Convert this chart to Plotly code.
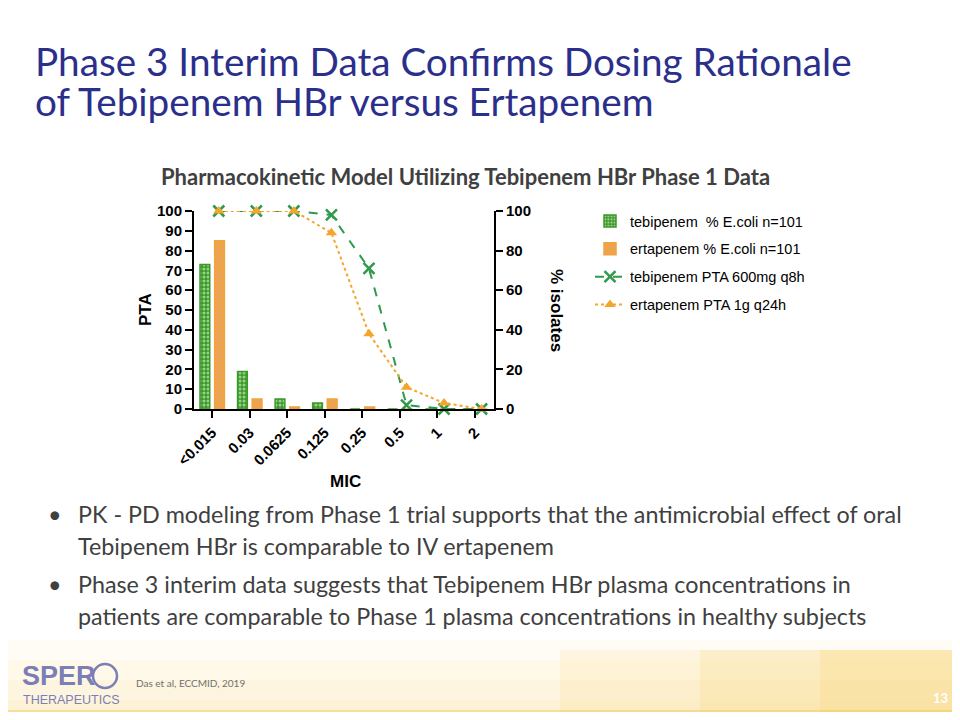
import plotly.graph_objects as go

# MIC categories (x axis)
mic = ["<0.015", "0.03", "0.0625", "0.125", "0.25", "0.5", "1", "2"]

# % of E.coli isolates at each MIC (n=101)
tebi_isolates = [73, 19, 5, 3, 0, 0, 0, 0]
erta_isolates = [85, 5, 1, 5, 1, 0, 0, 0]

# probability of target attainment (PTA, %)
tebi_pta = [100, 100, 100, 98, 71, 2, 0, 0]
erta_pta = [100, 100, 100, 89, 38, 11, 3, 0]

GREEN = "#3A9A26"
ORANGE = "#F2A33A"
LINE_GREEN = "#2E9A4A"
LINE_ORANGE = "#F4A52C"
NAVY = "#2B2F8C"
GREY = "#404040"
LOGO = "#7B7FB5"

# page has an 8px body margin, so the figure sits at (8, 8)
OFF = 8
W, H = 960 - OFF, 720 - 2 * OFF


def px(x):
    return (x - OFF) / W


def py(y):
    return 1 - (y - OFF) / H


tick_font = dict(family="Liberation Sans, Arial", size=15, color="black", weight="bold")

fig = go.Figure()

fig.add_trace(go.Bar(
    x=mic, y=tebi_isolates, name="tebipenem  % E.coli n=101",
    width=0.26, offset=-0.32,
    marker=dict(color=GREEN, line=dict(color=GREEN, width=1.5),
                pattern=dict(shape=".", fgcolor="white", size=4, solidity=0.45, fillmode="overlay")),
    legendgroup="a",
))
fig.add_trace(go.Bar(
    x=mic, y=erta_isolates, name="ertapenem % E.coli n=101",
    width=0.26, offset=0.07,
    marker=dict(color=ORANGE, line=dict(color=ORANGE, width=1.5),
                pattern=dict(shape=".", fgcolor="#D9A6A0", size=4, solidity=0.45, fillmode="overlay")),
    legendgroup="b",
))
fig.add_trace(go.Scatter(
    x=mic, y=tebi_pta, name="tebipenem PTA 600mg q8h",
    xaxis="x2", yaxis="y2", mode="lines+markers", cliponaxis=False,
    line=dict(color=LINE_GREEN, width=2, dash="dash"),
    marker=dict(symbol="x-thin", size=11, line=dict(color=LINE_GREEN, width=2.5)),
    legendgroup="c",
))
fig.add_trace(go.Scatter(
    x=mic, y=erta_pta, name="ertapenem PTA 1g q24h",
    xaxis="x2", yaxis="y2", mode="lines+markers", cliponaxis=False,
    line=dict(color=LINE_ORANGE, width=2, dash="dot"),
    marker=dict(symbol="triangle-up", size=10, color=LINE_ORANGE),
    legendgroup="d",
))

xdom = [px(194), px(494)]
ydom = [py(409), py(211)]

fig.update_layout(
    template="none",
    width=W, height=H,
    margin=dict(l=0, r=0, t=0, b=0, pad=0, autoexpand=False),
    paper_bgcolor="white", plot_bgcolor="rgba(0,0,0,0)",
    barmode="overlay",
    xaxis=dict(domain=xdom, range=[-0.48, 7.51], type="category", automargin=False,
               showline=True, linecolor="black", linewidth=2,
               ticks="outside", ticklen=7, tickwidth=2, tickcolor="black",
               tickangle=-45, tickfont=tick_font, showgrid=False, zeroline=False),
    xaxis2=dict(domain=xdom, overlaying="x", range=[-0.66, 7.33], type="category",
                visible=False, automargin=False),
    yaxis=dict(domain=ydom, range=[0, 100], dtick=10, automargin=False,
               showline=True, linecolor="black", linewidth=2,
               ticks="outside", ticklen=7, tickwidth=2, tickcolor="black",
               tickfont=tick_font, showgrid=False, zeroline=False),
    yaxis2=dict(domain=ydom, overlaying="y", side="right", anchor="x", range=[0, 100], dtick=20,
                automargin=False,
                showline=True, linecolor="black", linewidth=2,
                ticks="outside", ticklen=7, tickwidth=2, tickcolor="black",
                tickfont=tick_font, showgrid=False, zeroline=False),
    legend=dict(x=px(590), y=py(205), xanchor="left", yanchor="top",
                font=dict(family="Liberation Sans, Arial", size=14.5, color="black"),
                bgcolor="rgba(0,0,0,0)", tracegroupgap=6, itemwidth=30,
                traceorder="grouped"),
    showlegend=True,
)

# decorative warm band at the bottom of the slide
band = [(640, 0.10), (660, 0.12), (680, 0.14), (700, 0.16)]
for y0, op in band:
    fig.add_shape(type="rect", xref="paper", yref="paper", x0=0, x1=1, y0=0, y1=py(y0),
                  fillcolor="#FBE6A0", opacity=op, line_width=0, layer="below")
for x0, op in [(560, 0.15), (700, 0.2), (820, 0.25)]:
    fig.add_shape(type="rect", xref="paper", yref="paper", x0=px(x0), x1=1, y0=0, y1=py(650),
                  fillcolor="#F7D36E", opacity=op, line_width=0, layer="below")
fig.add_shape(type="rect", xref="paper", yref="paper", x0=0, x1=1, y0=0, y1=py(710),
              fillcolor="#F3C54A", opacity=0.45, line_width=0, layer="below")

# logo circle (the "O" of SPERO)
fig.add_shape(type="circle", xref="paper", yref="paper",
              x0=px(93), x1=px(117), y0=py(688), y1=py(664),
              line=dict(color=LOGO, width=2.5))

body = dict(family="Lato", size=23.3, color=GREY)
logo_font = "Liberation Sans, Arial"

ann = [
    dict(text="Phase 3 Interim Data Confirms Dosing Rationale", x=px(33), y=py(61),
         font=dict(family="Lato", size=38.7, color=NAVY), xanchor="left"),
    dict(text="of Tebipenem HBr versus Ertapenem", x=px(33), y=py(101),
         font=dict(family="Lato", size=38.7, color=NAVY), xanchor="left"),
    dict(text="<b>Pharmacokinetic Model Utilizing Tebipenem HBr Phase 1 Data</b>", x=px(465), y=py(177),
         font=dict(family="Lato", size=22, color=GREY), xanchor="center"),
    dict(text="<b>PTA</b>", x=px(145), y=py(310), textangle=-90,
         font=dict(family="Liberation Sans, Arial", size=17, color="black")),
    dict(text="<b>% isolates</b>", x=px(557), y=py(310), textangle=90,
         font=dict(family="Liberation Sans, Arial", size=17, color="black")),
    dict(text="<b>MIC</b>", x=px(345), y=py(481),
         font=dict(family="Liberation Sans, Arial", size=17, color="black")),
    dict(text="•", x=px(46), y=py(514), xanchor="left", font=body),
    dict(text="PK - PD modeling from Phase 1 trial supports that the antimicrobial effect of oral",
         x=px(76), y=py(514), xanchor="left", font=body),
    dict(text="Tebipenem HBr is comparable to IV ertapenem",
         x=px(76), y=py(546), xanchor="left", font=body),
    dict(text="•", x=px(46), y=py(584), xanchor="left", font=body),
    dict(text="Phase 3 interim data suggests that Tebipenem HBr plasma concentrations in",
         x=px(76), y=py(584), xanchor="left", font=body),
    dict(text="patients are comparable to Phase 1 plasma concentrations in healthy subjects",
         x=px(76), y=py(616), xanchor="left", font=body),
    dict(text="<b>SPER</b>", x=px(20), y=py(676), xanchor="left",
         font=dict(family=logo_font, size=27, color=LOGO)),
    dict(text="THERAPEUTICS", x=px(21), y=py(700), xanchor="left",
         font=dict(family=logo_font, size=12.5, color=LOGO)),
    dict(text="Das et al, ECCMID, 2019", x=px(134), y=py(683), xanchor="left",
         font=dict(family="Lato", size=10, color="#707070")),
    dict(text="<b>13</b>", x=px(940), y=py(698), xanchor="center",
         font=dict(family="Lato", size=13, color="white")),
]
for a in ann:
    a.setdefault("xanchor", "center")
    fig.add_annotation(xref="paper", yref="paper", yanchor="middle", showarrow=False, **a)

fig.write_html("out.html")
